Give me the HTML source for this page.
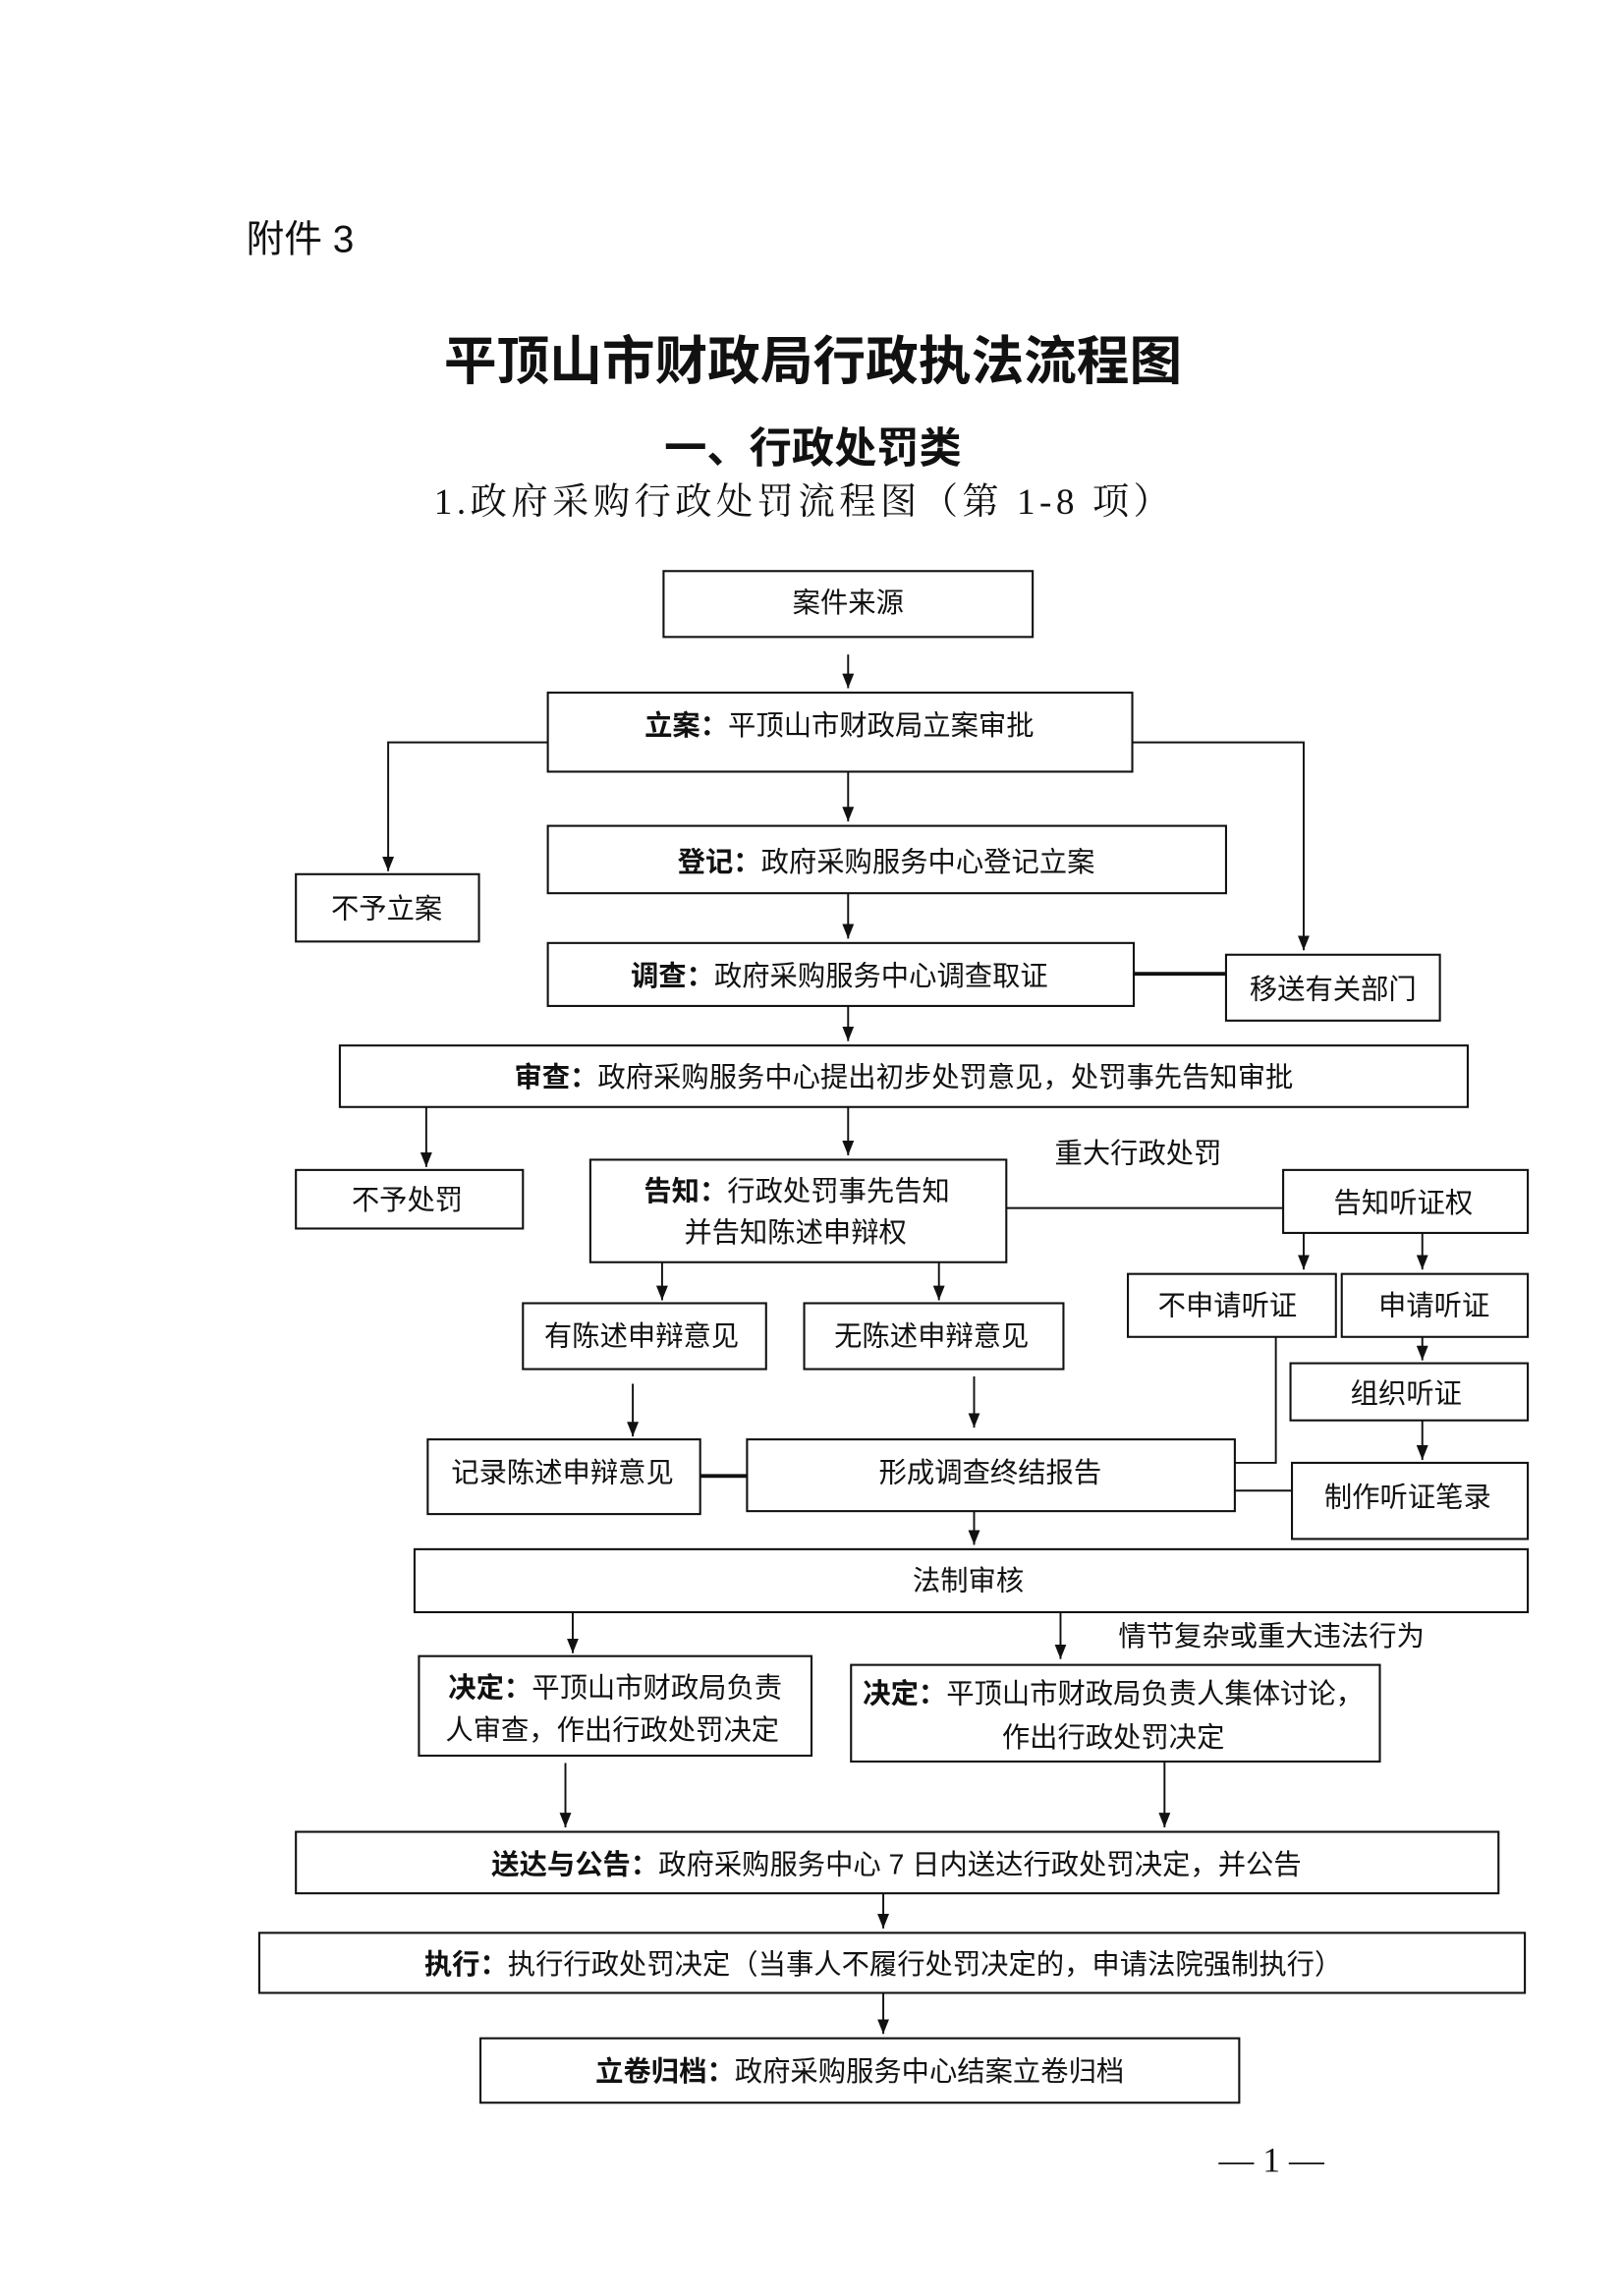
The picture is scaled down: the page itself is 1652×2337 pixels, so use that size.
<!DOCTYPE html>
<html><head><meta charset="utf-8"><style>
html,body{margin:0;padding:0;background:#fff;}
svg{display:block;}
text{font-family:"Liberation Sans","Noto Sans CJK SC",sans-serif;fill:#111;}
.b{font-weight:bold;}
rect{fill:#fff;stroke:#111;stroke-width:1.4;}
line,polyline{stroke:#111;stroke-width:1.3;fill:none;}
.t{stroke-width:2.6;}
</style></head><body>
<svg width="1652" height="2337" viewBox="0 0 1108 1568" preserveAspectRatio="none" xmlns="http://www.w3.org/2000/svg">
<defs>
<marker id="d" viewBox="0 0 10 8" refX="10" refY="4" markerWidth="10" markerHeight="8" orient="auto" markerUnits="userSpaceOnUse"><path d="M0,0 L10,4 L0,8 z" fill="#111"/></marker></defs>

<text x="168" y="172" font-size="26">附件 3</text>
<text x="555" y="259" font-size="36" text-anchor="middle" class="b">平顶山市财政局行政执法流程图</text>
<text x="555" y="316" font-size="29" text-anchor="middle" class="b">一、行政处罚类</text>
<text x="549" y="351" font-size="25" text-anchor="middle" letter-spacing="3" style="font-family:'Liberation Serif','Noto Serif CJK SC',serif">1.政府采购行政处罚流程图（第 1-8 项）</text>

<g font-size="19">
<rect x="453" y="390" width="252" height="45"/><text x="579" y="418" text-anchor="middle">案件来源</text>
<line x1="579" y1="447" x2="579" y2="470" marker-end="url(#d)"/>
<rect x="374" y="473" width="399" height="54"/><text x="573" y="502" text-anchor="middle"><tspan class="b">立案：</tspan>平顶山市财政局立案审批</text>
<polyline points="374,507 265,507 265,595" marker-end="url(#d)"/>
<rect x="202" y="597" width="125" height="46"/><text x="264" y="627" text-anchor="middle">不予立案</text>
<polyline points="773,507 890,507 890,649" marker-end="url(#d)"/>
<rect x="837" y="652" width="146" height="45"/><text x="910" y="682" text-anchor="middle">移送有关部门</text>
<line x1="579" y1="527" x2="579" y2="561" marker-end="url(#d)"/>
<rect x="374" y="564" width="463" height="46"/><text x="605" y="595" text-anchor="middle"><tspan class="b">登记：</tspan>政府采购服务中心登记立案</text>
<line x1="579" y1="610" x2="579" y2="641" marker-end="url(#d)"/>
<rect x="374" y="644" width="400" height="43"/><text x="573" y="673" text-anchor="middle"><tspan class="b">调查：</tspan>政府采购服务中心调查取证</text>
<line class="t" x1="774" y1="665" x2="837" y2="665"/>
<line x1="579" y1="687" x2="579" y2="711" marker-end="url(#d)"/>
<rect x="232" y="714" width="770" height="42"/><text x="617" y="742" text-anchor="middle"><tspan class="b">审查：</tspan>政府采购服务中心提出初步处罚意见，处罚事先告知审批</text>
<line x1="291" y1="756" x2="291" y2="797" marker-end="url(#d)"/>
<rect x="202" y="799" width="155" height="40"/><text x="278" y="826" text-anchor="middle">不予处罚</text>
<line x1="579" y1="756" x2="579" y2="789" marker-end="url(#d)"/>
<rect x="403" y="792" width="284" height="70"/>
<text x="544" y="820" text-anchor="middle"><tspan class="b">告知：</tspan>行政处罚事先告知</text>
<text x="543" y="848" text-anchor="middle">并告知陈述申辩权</text>
<text x="777" y="794" text-anchor="middle">重大行政处罚</text>
<line x1="687" y1="825" x2="876" y2="825" stroke-width="1.8"/>
<rect x="876" y="799" width="167" height="43"/><text x="958" y="828" text-anchor="middle">告知听证权</text>
<line x1="890" y1="842" x2="890" y2="867" marker-end="url(#d)"/>
<line x1="971" y1="842" x2="971" y2="867" marker-end="url(#d)"/>
<rect x="770" y="870" width="142" height="43"/><text x="838" y="898" text-anchor="middle">不申请听证</text>
<rect x="916" y="870" width="127" height="43"/><text x="979" y="898" text-anchor="middle">申请听证</text>
<line x1="971" y1="913" x2="971" y2="929" marker-end="url(#d)"/>
<rect x="881" y="931" width="162" height="39"/><text x="960" y="958" text-anchor="middle">组织听证</text>
<line x1="971" y1="970" x2="971" y2="997" marker-end="url(#d)"/>
<rect x="882" y="999" width="161" height="52"/><text x="961" y="1029" text-anchor="middle">制作听证笔录</text>
<line x1="452" y1="862" x2="452" y2="888" marker-end="url(#d)"/>
<line x1="641" y1="862" x2="641" y2="888" marker-end="url(#d)"/>
<rect x="357" y="890" width="166" height="45"/><text x="438" y="919" text-anchor="middle">有陈述申辩意见</text>
<rect x="549" y="890" width="177" height="45"/><text x="636" y="919" text-anchor="middle">无陈述申辩意见</text>
<line x1="432" y1="945" x2="432" y2="981" marker-end="url(#d)"/>
<line x1="665" y1="940" x2="665" y2="975" marker-end="url(#d)"/>
<rect x="292" y="983" width="186" height="51"/><text x="384" y="1012" text-anchor="middle">记录陈述申辩意见</text>
<rect x="510" y="983" width="333" height="49"/><text x="676" y="1012" text-anchor="middle">形成调查终结报告</text>
<line class="t" x1="478" y1="1008" x2="510" y2="1008"/>
<polyline points="871,913 871,999 843,999" stroke-width="1.8"/>
<line x1="843" y1="1018" x2="882" y2="1018" stroke-width="2.2"/>
<line x1="665" y1="1032" x2="665" y2="1055" marker-end="url(#d)"/>
<rect x="283" y="1058" width="760" height="43"/><text x="661" y="1086" text-anchor="middle">法制审核</text>
<line x1="391" y1="1101" x2="391" y2="1129" marker-end="url(#d)"/>
<line x1="724" y1="1101" x2="724" y2="1133" marker-end="url(#d)"/>
<text x="868" y="1124" text-anchor="middle">情节复杂或重大违法行为</text>
<rect x="286" y="1131" width="268" height="68"/>
<text x="420" y="1159" text-anchor="middle"><tspan class="b">决定：</tspan>平顶山市财政局负责</text>
<text x="418" y="1188" text-anchor="middle">人审查，作出行政处罚决定</text>
<rect x="581" y="1137" width="361" height="66"/>
<text x="760" y="1163" text-anchor="middle"><tspan class="b">决定：</tspan>平顶山市财政局负责人集体讨论，</text>
<text x="760" y="1193" text-anchor="middle">作出行政处罚决定</text>
<line x1="386" y1="1204" x2="386" y2="1248" marker-end="url(#d)"/>
<line x1="795" y1="1203" x2="795" y2="1248" marker-end="url(#d)"/>
<rect x="202" y="1251" width="821" height="42"/><text x="612" y="1280" text-anchor="middle"><tspan class="b">送达与公告：</tspan>政府采购服务中心 7 日内送达行政处罚决定，并公告</text>
<line x1="603" y1="1293" x2="603" y2="1317" marker-end="url(#d)"/>
<rect x="177" y="1320" width="864" height="41"/><text x="603" y="1348" text-anchor="middle"><tspan class="b">执行：</tspan>执行行政处罚决定（当事人不履行处罚决定的，申请法院强制执行）</text>
<line x1="603" y1="1361" x2="603" y2="1389" marker-end="url(#d)"/>
<rect x="328" y="1392" width="518" height="44"/><text x="587" y="1421" text-anchor="middle"><tspan class="b">立卷归档：</tspan>政府采购服务中心结案立卷归档</text>
</g>
<text x="868" y="1483" font-size="24" text-anchor="middle" style="font-family:'Liberation Serif','Noto Serif CJK SC',serif">— 1 —</text>
</svg>
</body></html>
